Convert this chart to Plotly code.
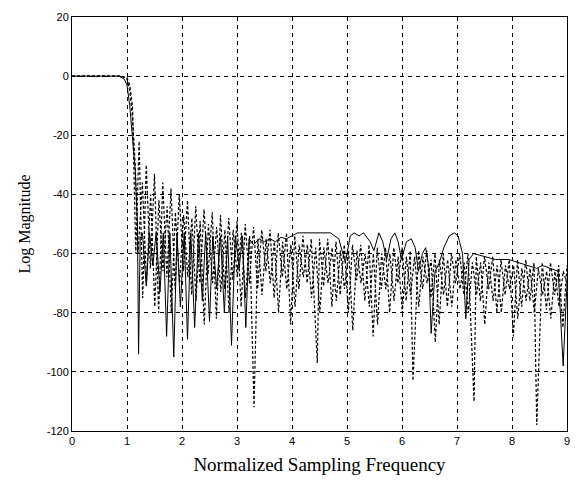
import plotly.graph_objects as go

# Solid response
solid_x = [0, 0.3, 0.6, 0.85, 0.95, 1.0, 1.05, 1.1, 1.15, 1.19, 1.21, 1.24, 1.28, 1.35, 1.41, 1.47, 1.53,
           1.6, 1.66, 1.72, 1.78, 1.85, 1.91, 1.97, 2.04, 2.1, 2.16, 2.23, 2.3, 2.37, 2.43, 2.5, 2.56,
           2.63, 2.7, 2.77, 2.83, 2.9, 2.97, 3.04, 3.1, 3.16, 3.22, 3.3, 3.4, 3.5, 3.6, 3.7, 3.8, 3.9,
           4.0, 4.1, 4.4, 4.7, 4.85, 4.97, 5.06, 5.13, 5.22, 5.3, 5.42, 5.49, 5.58, 5.65, 5.72, 5.8,
           5.87, 5.93, 5.99, 6.08, 6.17, 6.24, 6.3, 6.37, 6.43, 6.49, 6.53, 6.6, 6.68, 6.76, 6.86, 6.95,
           7.02, 7.1, 7.16, 7.22, 7.3, 7.5, 7.7, 7.94, 8.1, 8.3, 8.45, 8.55, 8.7, 8.84, 8.93, 9.0]
solid_y = [0, 0, 0, 0, -1, -3, -10, -20, -32, -50, -94, -55, -53, -71, -53, -64, -53,
           -73, -53, -88, -53, -95, -53, -78, -53, -89, -53, -85, -53, -76, -53, -83, -54,
           -72, -54, -80, -54, -91, -54, -65, -54, -85, -55, -57, -55, -56, -55, -56, -54.5, -55,
           -54, -53, -53, -53, -55, -63, -54, -53, -54, -53, -56, -59, -53, -56, -62, -55,
           -53, -56, -62, -56, -55, -58, -66, -60, -58, -65, -87, -66, -63, -58, -54, -53,
           -54, -60, -82, -62, -60, -61, -62, -62, -63, -64, -65, -64, -65, -66, -98, -70]

# Dashed response A (upper)
dash_a_x = [0, 0.9, 1.0, 1.05, 1.1, 1.16, 1.22, 1.285, 1.35, 1.425, 1.5, 1.575, 1.65, 1.725, 1.8,
            1.875, 1.95, 2.025, 2.1, 2.175, 2.25, 2.325, 2.4, 2.475, 2.55, 2.625, 2.7, 2.775, 2.85,
            2.925, 3.0, 3.075, 3.15, 3.225, 3.3, 3.375, 3.45, 3.525, 3.6, 3.675, 3.75, 3.825, 3.9,
            3.975, 4.05, 4.125, 4.2, 4.275, 4.35, 4.46, 4.5, 4.575, 4.65, 4.725, 4.8, 4.875, 4.95,
            5.025, 5.1, 5.175, 5.25, 5.325, 5.4, 5.475, 5.55, 5.625, 5.7, 5.775, 5.85, 5.925, 6.0,
            6.075, 6.15, 6.2, 6.3, 6.375, 6.45, 6.525, 6.6, 6.675, 6.75, 6.825, 6.9, 6.975, 7.05,
            7.125, 7.2, 7.31, 7.35, 7.425, 7.5, 7.575, 7.65, 7.725, 7.8, 7.875, 7.95, 8.025, 8.1,
            8.175, 8.25, 8.325, 8.4, 8.45, 8.55, 8.625, 8.7, 8.775, 8.85, 8.925, 9.0]
dash_a_y = [0, 0, -0.5, -3, -10, -60, -22, -75, -30, -65, -33, -80, -36, -68, -38,
            -72, -40, -66, -42, -74, -44, -70, -45, -67, -46, -82, -47, -72, -48,
            -69, -49, -78, -50, -70, -51, -72, -52, -66, -52, -75, -53, -68, -53,
            -84, -54, -72, -54, -70, -55, -97, -55, -71, -55, -78, -56, -74, -57,
            -80, -57, -69, -57, -76, -57, -88, -58, -72, -58, -80, -58, -70, -58,
            -76, -59, -103, -59, -72, -59, -75, -60, -84, -60, -78, -60, -70, -60,
            -74, -60, -110, -61, -76, -61, -72, -61, -80, -62, -74, -62, -88, -62,
            -78, -62, -76, -63, -118, -63, -79, -63, -74, -64, -85, -64]

# Dashed response B (lower)
dash_b_x = [0, 0.9, 1.0, 1.05, 1.1, 1.15, 1.2, 1.28, 1.355, 1.43, 1.505, 1.58, 1.655, 1.73, 1.805,
            1.88, 1.955, 2.03, 2.105, 2.18, 2.255, 2.33, 2.405, 2.48, 2.555, 2.63, 2.705, 2.78,
            2.855, 2.93, 3.005, 3.08, 3.155, 3.23, 3.31, 3.38, 3.455, 3.53, 3.605, 3.68, 3.755,
            3.83, 3.905, 3.98, 4.055, 4.13, 4.205, 4.28, 4.355, 4.43, 4.505, 4.58, 4.655, 4.73,
            4.805, 4.88, 4.955, 5.03, 5.105, 5.18, 5.255, 5.33, 5.405, 5.48, 5.555, 5.63, 5.705,
            5.78, 5.855, 5.93, 6.005, 6.08, 6.155, 6.23, 6.305, 6.38, 6.455, 6.53, 6.605, 6.68,
            6.755, 6.83, 6.905, 6.98, 7.055, 7.13, 7.205, 7.28, 7.355, 7.43, 7.505, 7.58, 7.655,
            7.73, 7.805, 7.88, 7.955, 8.03, 8.105, 8.18, 8.255, 8.33, 8.405, 8.48, 8.555, 8.63,
            8.705, 8.78, 8.855, 8.93, 9.0]
dash_b_y = [0, 0, -1, -5, -14, -30, -60, -36, -70, -40, -78, -42, -66, -44, -80,
            -46, -70, -47, -68, -48, -76, -49, -84, -50, -70, -51, -73, -52,
            -80, -52, -68, -53, -75, -54, -112, -55, -74, -55, -70, -56, -80,
            -56, -72, -57, -78, -57, -68, -57, -75, -58, -80, -58, -70, -58,
            -76, -59, -72, -59, -86, -59, -70, -60, -78, -60, -84, -60, -72,
            -60, -76, -61, -80, -61, -74, -61, -78, -61, -70, -62, -90, -62,
            -74, -62, -78, -62, -72, -63, -80, -63, -74, -63, -84, -63, -76,
            -64, -80, -64, -72, -64, -82, -65, -76, -65, -80, -65, -74, -66,
            -82, -66, -78, -66, -70]

x_ticks = [0, 1, 2, 3, 4, 5, 6, 7, 8, 9]
x_tick_labels = ["0", "1", "2", "3", "4", "5", "6", "7", "8", "9"]
y_ticks = [-120, -100, -80, -60, -40, -20, 0, 20]
y_tick_labels = ["-120", "-100", "-80", "-60", "-40", "-20", "0", "20"]

fig = go.Figure()
fig.add_trace(go.Scatter(x=dash_b_x, y=dash_b_y, mode="lines",
                         line=dict(color="black", width=1.2, dash="3px,2px")))
fig.add_trace(go.Scatter(x=dash_a_x, y=dash_a_y, mode="lines",
                         line=dict(color="black", width=1.2, dash="3px,2px")))
fig.add_trace(go.Scatter(x=solid_x, y=solid_y, mode="lines",
                         line=dict(color="black", width=1)))

axis_common = dict(showline=True, linecolor="black", linewidth=1, mirror=True,
                   showgrid=True, gridcolor="black", gridwidth=1, griddash="4px,4px",
                   zeroline=False, ticks="", automargin=False, ticklabeloverflow="allow",
                   tickfont=dict(family="Liberation Sans", size=11, color="black"))

# The page body adds an 8px offset; the figure size and margins compensate for it.
fig.update_layout(
    width=562, height=468,
    margin=dict(l=64, r=3, t=9, b=45),
    paper_bgcolor="white", plot_bgcolor="white",
    showlegend=False,
    xaxis=dict(range=[0, 9], tickvals=x_ticks, ticktext=x_tick_labels,
               title=dict(text="Normalized Sampling Frequency", standoff=11,
                          font=dict(family="Liberation Serif", size=19, color="black")),
               **axis_common),
    yaxis=dict(range=[-120, 20], tickvals=y_ticks, ticktext=y_tick_labels,
               title=dict(text="Log Magnitude", standoff=12,
                          font=dict(family="Liberation Serif", size=16, color="black")),
               **axis_common),
)

fig.write_html("out.html")
